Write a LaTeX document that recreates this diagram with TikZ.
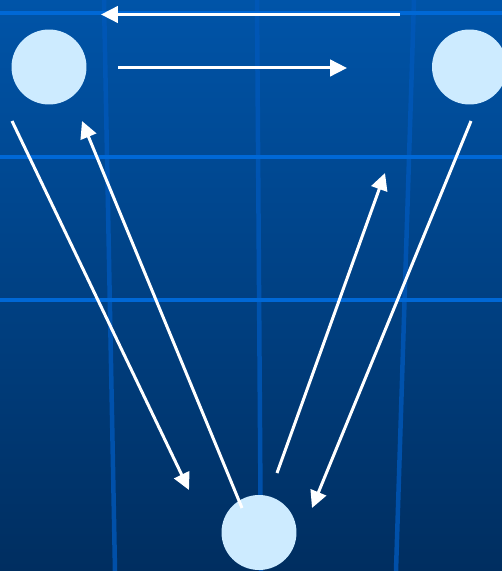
\documentclass[tikz,border=0pt]{standalone}
\usepackage{xcolor}
\usepackage{tikz}
\usetikzlibrary{arrows.meta, positioning}
\definecolor{bgtop}{RGB}{0,84,168}
\definecolor{bgbot}{RGB}{0,46,96}
\definecolor{gridh}{RGB}{0,104,214}
\definecolor{gridv}{RGB}{0,88,186}
\definecolor{ball}{RGB}{205,235,255}
\tikzstyle{arrow} = [white, line width=0.06cm, -{Triangle[length=0.34cm, width=0.33cm]}]
\tikzstyle{station} = [circle, fill=ball, minimum size=1.5cm, inner sep=0pt]
\tikzstyle{hline} = [gridh, line width=0.07cm]
\tikzstyle{vline} = [gridv, line width=0.09cm, opacity=0.8]

\begin{document}
\begin{tikzpicture}[x=0.02cm, y=-0.02cm]

\useasboundingbox (0,0) rectangle (502,571);
\clip (0,0) rectangle (502,571);

% Background
\shade [top color=bgtop, bottom color=bgbot] (0,0) rectangle (502,571);
\draw [vline] (104,0) -- (115,571);
\draw [vline] (257,0) -- (261,571);
\draw [vline] (414,0) -- (396,571);
\draw [hline] (0,13) -- (502,13);
\draw [hline] (0,157) -- (502,157);
\draw [hline] (0,300) -- (502,300);

% Stations
\node (left) [station] at (49,67) {};
\node (right) [station] at (469.5,67) {};
\node (bottom) [station] at (259,532.5) {};

% Arrow ends
\coordinate (topA) at (400,14.5);
\coordinate (topB) at (101,14.5);
\coordinate (midA) at (118,68);
\coordinate (midB) at (347,68);
\coordinate (ldownA) at (12,121);
\coordinate (ldownB) at (189,490);
\coordinate (lupA) at (242,508);
\coordinate (lupB) at (82,121);
\coordinate (rupA) at (277,473);
\coordinate (rupB) at (385,173);
\coordinate (rdownA) at (471,121);
\coordinate (rdownB) at (312,508);

% Connections
\draw [arrow] (topA) -- (topB);
\draw [arrow] (midA) -- (midB);
\draw [arrow] (ldownA) -- (ldownB);
\draw [arrow] (lupA) -- (lupB);
\draw [arrow] (rupA) -- (rupB);
\draw [arrow] (rdownA) -- (rdownB);

\end{tikzpicture}
\end{document}
